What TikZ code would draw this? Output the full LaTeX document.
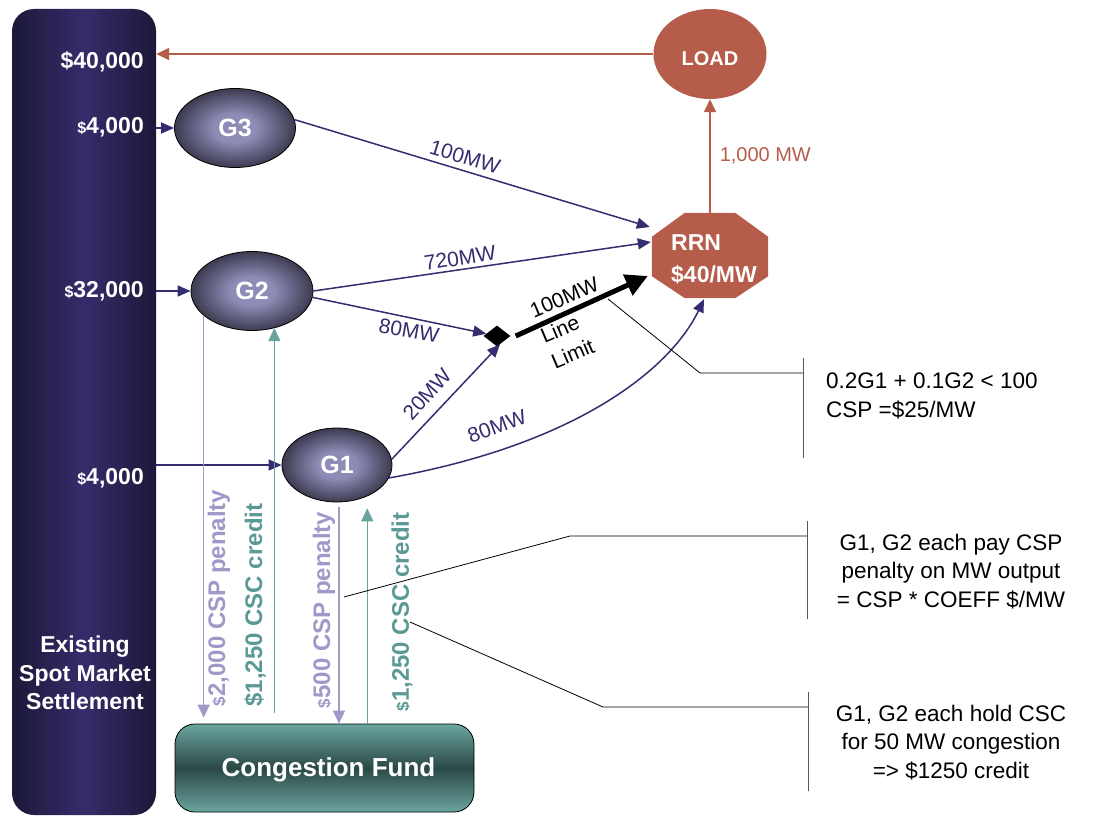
\documentclass[tikz,border=0pt]{standalone}
\usepackage{fontspec}
\setmainfont{Liberation Sans}
\usetikzlibrary{arrows.meta,shapes.geometric}
\definecolor{colDark}{HTML}{1B1838}
\definecolor{colMid}{HTML}{352D6B}
\definecolor{flowc}{HTML}{342D70}
\definecolor{rust}{HTML}{B65C4A}
\definecolor{lavc}{HTML}{9E9AC8}
\definecolor{tealtxt}{HTML}{5B9A94}
\definecolor{tealln}{HTML}{6AA39D}
\definecolor{fundLight}{HTML}{6CA5A0}
\definecolor{fundDark}{HTML}{2A4946}
\definecolor{genIn}{HTML}{8E8BB6}
\definecolor{genOut}{HTML}{3C3B50}
\pgfdeclareradialshading{genshade}{\pgfpoint{0bp}{0bp}}{color(0bp)=(genIn); color(9bp)=(genIn); color(25bp)=(genOut); color(50bp)=(genOut)}
\newcommand{\myfs}[1]{\fontsize{#1}{#1}\selectfont}
\begin{document}
\begin{tikzpicture}[x=1pt,y=-1pt,
  column/.style={rounded corners=22pt, minimum width=144pt, minimum height=806pt, inner sep=0pt,
    left color=colDark, right color=colDark, middle color=colMid},
  collab/.style={text=white, font=\fontsize{23}{28.5}\selectfont\bfseries, inner sep=0pt},
  gen/.style={ellipse, draw=black, line width=0.8pt, shading=genshade,
    text=white, font=\myfs{25}\bfseries, inner sep=0pt},
  flowline/.style={draw=flowc, line width=1.5pt, -{Triangle[length=13pt,width=11pt]}},
  flowlab/.style={text=flowc, font=\myfs{21}, inner sep=0pt},
  redline/.style={draw=rust, line width=1.5pt, -{Triangle[length=13pt,width=12pt]}},
  lavline/.style={draw=lavc, line width=1.5pt, -{Triangle[length=13pt,width=12pt]}},
  tealline/.style={draw=tealln, line width=1.5pt, -{Triangle[length=13pt,width=12pt]}},
  vlab/.style={rotate=90, font=\myfs{24}\bfseries, inner sep=0pt},
  thickarrow/.style={draw=black, line width=5pt, -{Triangle[length=22pt,width=22pt]}},
  callout/.style={draw=black, line width=0.8pt},
  bar/.style={draw=black, line width=0.8pt, minimum width=0pt, inner sep=0pt},
  note/.style={font=\fontsize{22.5}{28.5}\selectfont, inner sep=0pt},
  fundbox/.style={rounded corners=20pt, draw=black, line width=0.8pt, minimum width=299pt, minimum height=88pt,
    top color=fundLight, bottom color=fundLight, middle color=fundDark,
    text=white, font=\myfs{26}\bfseries, inner sep=0pt}
]
\useasboundingbox (0,0) rectangle (1112,816);

% settlement column
\node[column] (col) at (84,412) {};
\node[collab, anchor=east] (v40) at (144,62) {\$40,000};
\node[collab, anchor=east] (v4a) at (144,127) {{\myfs{16}\$}4,000};
\node[collab, anchor=east] (v32) at (144,291) {{\myfs{16}\$}32,000};
\node[collab, anchor=east] (v4b) at (144,478) {{\myfs{16}\$}4,000};
\node[collab, align=center] (colname) at (85,673) {Existing\\Spot Market\\Settlement};

% generators
\node[gen, minimum width=121pt, minimum height=79pt] (g3) at (235,128) {G3};
\node[gen, minimum width=122pt, minimum height=79pt] (g2) at (252,291) {G2};
\node[gen, minimum width=110pt, minimum height=74pt] (g1) at (337,465) {G1};

% load
\node[ellipse, fill=rust, minimum width=113pt, minimum height=90pt, inner sep=0pt,
  text=white, font=\myfs{20}\bfseries] (load) at (710,54) {\raisebox{-12pt}[0pt][0pt]{LOAD}};

% RRN octagon
\node[minimum width=116pt, minimum height=85pt, inner sep=0pt] (rrn) at (710,255.5) {};
\fill[rust] ([yshift=-24pt]rrn.north west) -- ([xshift=33pt]rrn.north west) -- ([xshift=-33pt]rrn.north east)
  -- ([yshift=-24pt]rrn.north east) -- ([yshift=22pt]rrn.south east) -- ([xshift=-33pt]rrn.south east)
  -- ([xshift=33pt]rrn.south west) -- ([yshift=22pt]rrn.south west) -- cycle;
\node[text=white, font=\fontsize{23}{32}\selectfont\bfseries, align=left, inner sep=0pt] (rrnlab) at (714,259) {RRN\\\$40/MW};

% junction
\node[diamond, fill=black, minimum width=27pt, minimum height=21pt, inner sep=0pt] (dia) at (497,336) {};

% congestion fund
\node[fundbox] (fund) at (324.5,768) {\raisebox{-8pt}[0pt][0pt]{\hspace*{8pt}Congestion Fund}};

% ports on RRN
\coordinate (r1) at ([xshift=-2pt,yshift=28.5pt]rrn.west);
\coordinate (r2) at ([xshift=-1pt,yshift=13.5pt]rrn.west);
\coordinate (r3) at ([xshift=-4pt,yshift=-20.5pt]rrn.west);
\coordinate (r4) at ([xshift=-6pt,yshift=-1pt]rrn.south);

% payments from column
\draw[flowline] (col.east |- g3.west) -- (g3.west);
\draw[flowline] (col.east |- g2.west) -- (g2.west);
\draw[flowline] (col.east |- g1.west) -- (g1.west);
\draw[redline] (load.west) -- (load.west -| col.east);
\draw[redline] (rrn.north) -- (load.south)
  node[midway, right=9pt, font=\myfs{20}, text=rust, inner sep=0pt] (mwlab) {1,000 MW};

% flows
\draw[flowline] (g3.8) -- (r1);
\node[flowlab, rotate=-17] (l100) at (465,157) {100MW};
\draw[flowline] (g2.0) -- (r2);
\node[flowlab, rotate=8.5] (l720) at (460,258) {720MW};
\draw[flowline] (g2.-6) -- (dia);
\node[flowlab, rotate=-10] (l80a) at (409,331) {80MW};
\draw[flowline] (g1.6) -- (dia.-70);
\node[flowlab, rotate=48] (l20) at (427,394) {20MW};
\draw[thickarrow] ([xshift=5pt]dia.east) -- (r3);
\node[font=\fontsize{21}{27.5}\selectfont, align=left, rotate=23, inner sep=0pt] (llim) at (575,323) {100MW\\Line\\Limit};
\draw[flowline] (g1.-14) .. controls (575,445) and (670,370) .. (r4);
\node[flowlab, rotate=20] (l80b) at (497,426) {80MW};

% penalties and credits
\draw[lavline, shorten >=6pt] (g2.207) -- (g2.207 |- fund.north);
\draw[tealline, shorten <=11pt] (g2.-59 |- fund.north) -- (g2.-59);
\draw[lavline, shorten <=5pt] (g1.-87) -- (g1.-87 |- fund.north);
\draw[tealline, shorten >=12pt] (g1.-46 |- fund.north) -- (g1.-46);
\node[vlab, text=lavc] (lp1) at (219,598) {{\myfs{17}\$}2,000 CSP penalty};
\node[vlab, text=tealtxt] (lc1) at (255,605) {\$1,250 CSC credit};
\node[vlab, text=lavc] (lp2) at (324,610) {{\myfs{17}\$}500 CSP penalty};
\node[vlab, text=tealtxt] (lc2) at (402,612) {{\myfs{17}\$}1,250 CSC credit};

% callouts
\coordinate (c1a) at (608,299);
\coordinate (e1) at (700,373);
\node[bar, minimum height=100pt] (bar1) at (803,408) {};
\draw[callout] (c1a) -- (e1) -- (e1 -| bar1.center);
\node[note, anchor=west, align=left] (n1) at (826,396) {0.2G1 + 0.1G2 < 100\\CSP =\$25/MW};

\coordinate (c2a) at (344,597);
\coordinate (e2) at (570,536);
\node[bar, minimum height=98pt] (bar2) at (807,570) {};
\draw[callout] (c2a) -- (e2) -- (e2 -| bar2.center);
\node[note, align=center] (n2) at (951,571.5) {G1, G2 each pay CSP\\penalty on MW output\\= CSP * COEFF \$/MW};

\coordinate (c3a) at (410,622);
\coordinate (e3) at (603,707);
\node[bar, minimum height=99pt] (bar3) at (808,741.5) {};
\draw[callout] (c3a) -- (e3) -- (e3 -| bar3.center);
\node[note, align=center] (n3) at (951,742.5) {G1, G2 each hold CSC\\for 50 MW congestion\\=> \$1250 credit};
\end{tikzpicture}
\end{document}
